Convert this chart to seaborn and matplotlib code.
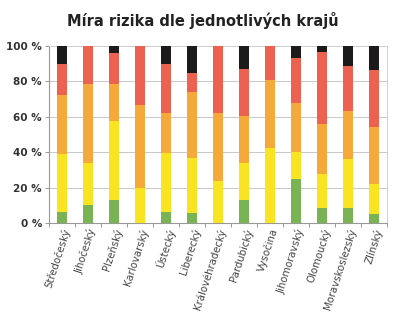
import matplotlib
matplotlib.use("Agg")
import matplotlib.pyplot as plt
import numpy as np
import pandas as pd
import seaborn as sns
from matplotlib.ticker import FixedLocator

kraje = ["Středočeský", "Jihočeský", "Plzeňský", "Karlovarský", "Ústecký",
         "Liberecký", "Královéhradecký", "Pardubický", "Vysočina",
         "Jihomoravský", "Olomoucký", "Moravskoslezský", "Zlínský"]

green = [6.0, 10.2, 13.0, 0.0, 6.4, 5.5, 0.0, 13.0, 0.0, 24.7, 8.3, 8.3, 4.9]
yellow = [32.8, 23.5, 44.6, 19.6, 33.0, 31.0, 23.7, 20.7, 42.2, 15.2, 19.2, 27.7, 17.1]
orange = [33.5, 44.6, 20.7, 47.1, 22.6, 37.7, 38.3, 26.8, 38.6, 27.7, 28.4, 27.3, 32.4]
red = [17.3, 21.7, 17.6, 33.3, 27.6, 10.4, 38.0, 26.5, 19.2, 25.4, 40.5, 25.6, 32.0]
black = [10.4, 0.0, 4.1, 0.0, 10.4, 15.4, 0.0, 13.0, 0.0, 7.0, 3.6, 11.1, 13.6]

y_ticks = [0, 20, 40, 60, 80, 100]
y_labels = ["0 %", "20 %", "40 %", "60 %", "80 %", "100 %"]

series = [("green", green, "#7ab354"), ("yellow", yellow, "#f8e420"),
          ("orange", orange, "#f5a93a"), ("red", red, "#ec6150"),
          ("black", black, "#1c1a1b")]

sns.set_theme(style="white")
plt.rcParams["font.family"] = ["DejaVu Sans"]

fig = plt.figure(figsize=(4.0, 3.25), dpi=100)
ax = fig.add_axes([0.1225, 0.314, 0.845, 0.5445])

cum = np.zeros(len(kraje))
cums = []
for name, vals, col in series:
    cum = cum + np.array(vals)
    cums.append((name, cum.copy(), col))

for name, c, col in reversed(cums):
    d = pd.DataFrame({"kraj": kraje, "v": c})
    sns.barplot(data=d, x="kraj", y="v", color=col, width=0.42,
                saturation=1, ax=ax, zorder=3, edgecolor="none", linewidth=0)

ax.set_ylim(0, 100)
ax.set_xlim(-0.5, len(kraje) - 0.5)
ax.set_yticks(y_ticks)
ax.set_yticklabels(y_labels, fontsize=7.5, fontweight="bold", color="#333333")
ax.set_xticks(range(len(kraje)))
ax.set_xticklabels(kraje, rotation=72, ha="right", rotation_mode="anchor",
                   fontsize=7.3, color="#444444")
ax.xaxis.set_minor_locator(FixedLocator(np.arange(-0.5, len(kraje), 1.0)))
ax.tick_params(axis="x", which="major", length=0, pad=3)
ax.tick_params(axis="x", which="minor", length=3, color="#999999", width=0.7, bottom=True)
ax.tick_params(axis="y", length=3, color="#999999", width=0.7, left=True, pad=2)
ax.set_xlabel("")
ax.set_ylabel("")

ax.yaxis.grid(True, color="#c8c8c8", linewidth=0.7, zorder=0)
ax.set_axisbelow(True)
for s in ["left", "bottom"]:
    ax.spines[s].set_color("#999999")
    ax.spines[s].set_linewidth(0.8)
for s in ["top", "right"]:
    ax.spines[s].set_color("#d0d0d0")
    ax.spines[s].set_linewidth(0.7)

fig.text(0.508, 0.938, "Míra rizika dle jednotlivých krajů", ha="center", va="center",
         fontsize=10.5, fontweight="bold", color="#222222")

fig.savefig("out.png", dpi=100)
